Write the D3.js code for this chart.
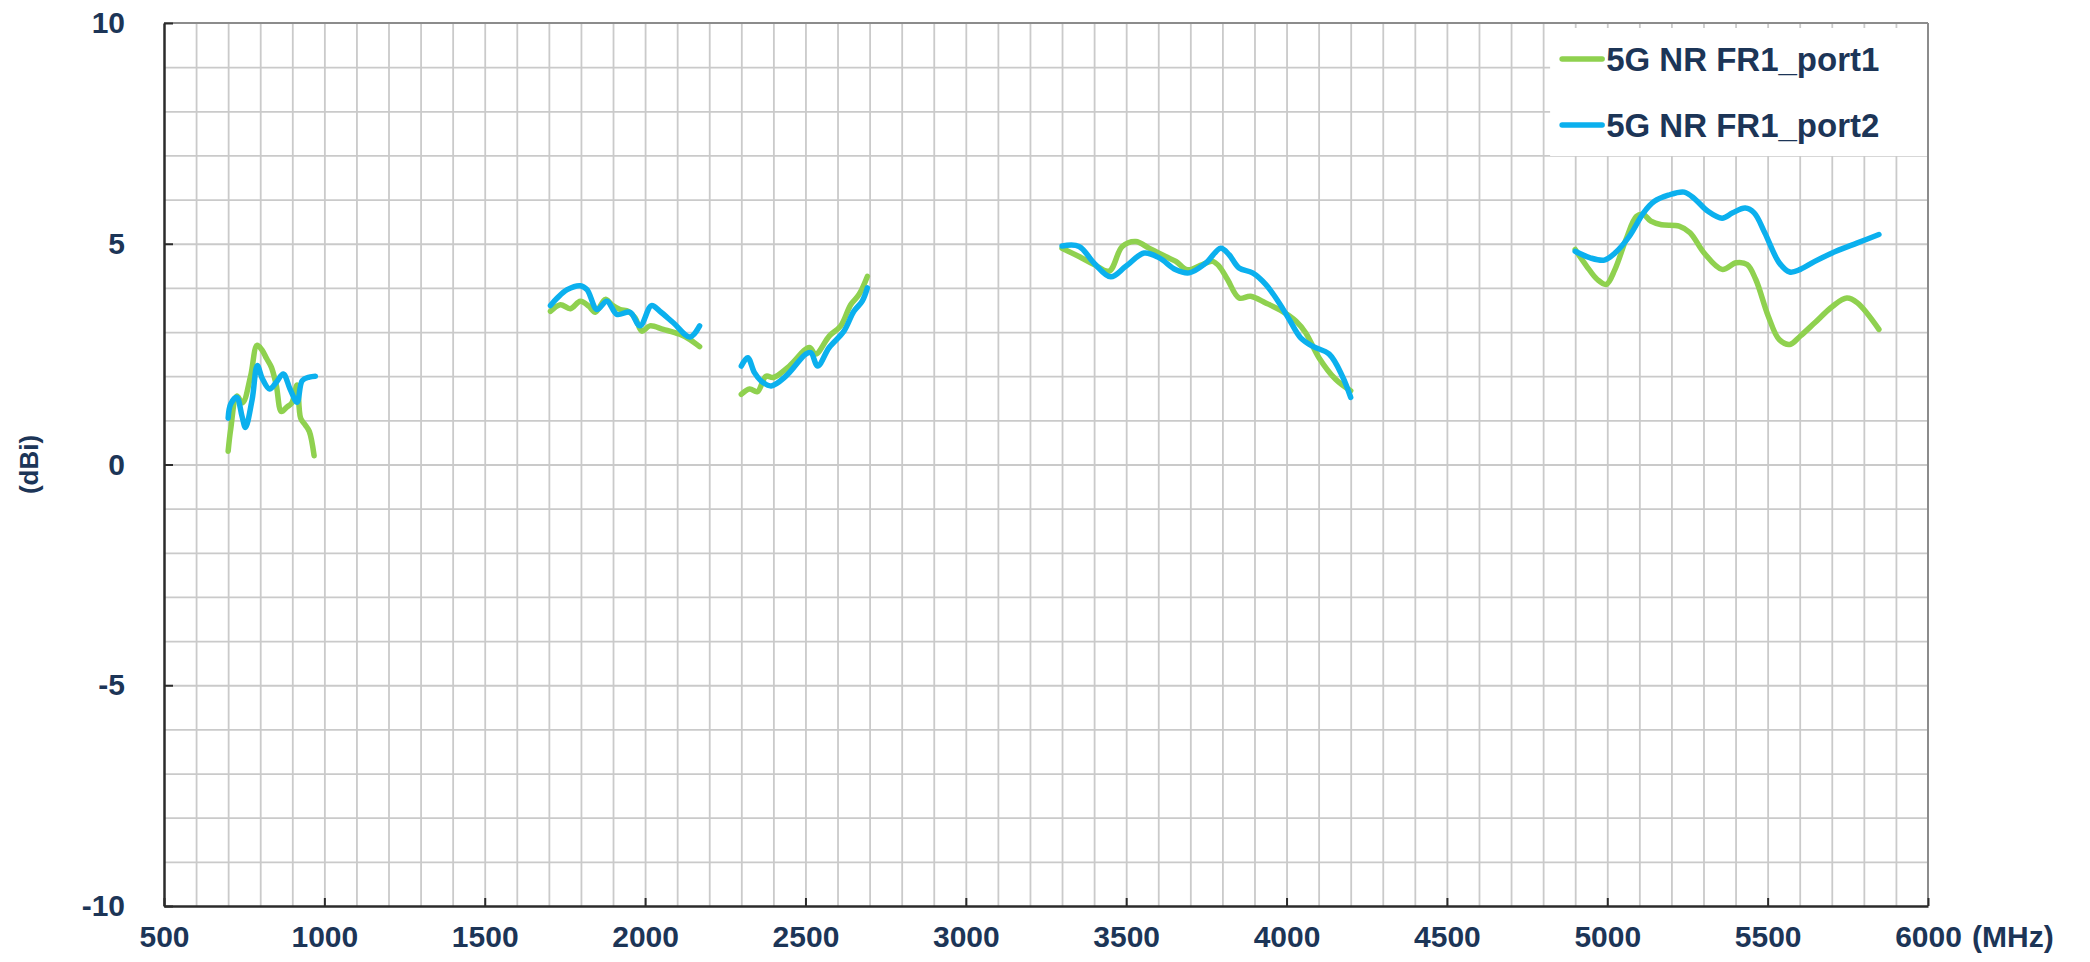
<!DOCTYPE html>
<html>
<head>
<meta charset="utf-8">
<title>5G NR FR1 gain</title>
<script src="https://d3js.org/d3.v7.min.js"></script>
<style>
  body { margin: 0; background: #fff; }
  text { font-family: "Liberation Sans", Arial, sans-serif; font-weight: bold; fill: #1c3557; }
</style>
</head>
<body>
<script>
var width = 2090, height = 962;

var seriesNames = ["5G NR FR1_port1", "5G NR FR1_port2"];
var seriesColors = ["#8fd14f", "#0bb0ee"];
var xTicks = [500, 1000, 1500, 2000, 2500, 3000, 3500, 4000, 4500, 5000, 5500, 6000];
var yTicks = [-10, -5, 0, 5, 10];

// null marks a gap between bands
var port1Freq = [700, 708, 727, 745, 770, 790, 805, 820, 835, 850, 866, 883, 899, 915, 926, 940, 953, 968, null,
  1705, 1736, 1767, 1798, 1824, 1845, 1876, 1896, 1922, 1948, 1969, 1990, 2015, 2057, 2108, 2140, 2170, null,
  2300, 2326, 2350, 2377, 2400, 2450, 2512, 2532, 2574, 2610, 2641, 2667, 2693, null,
  3300, 3353, 3400, 3447, 3488, 3530, 3571, 3623, 3655, 3691, 3738, 3769, 3790, 3816, 3852, 3888, 3935, 3987, 4029, 4060, 4101, 4153, 4200, null,
  4900, 4936, 4969, 4997, 5024, 5058, 5091, 5113, 5136, 5169, 5224, 5258, 5302, 5358, 5402, 5436, 5463, 5502, 5536, 5569, 5602, 5647, 5702, 5747, 5780, 5847];
var port1Gain = [0.3, 0.8, 1.55, 1.4, 2.0, 2.7, 2.6, 2.4, 2.2, 1.8, 1.2, 1.3, 1.4, 1.8, 1.05, 0.9, 0.75, 0.2, null,
  3.47, 3.62, 3.53, 3.70, 3.59, 3.45, 3.74, 3.62, 3.51, 3.47, 3.32, 3.02, 3.14, 3.06, 2.95, 2.83, 2.67, null,
  1.59, 1.71, 1.65, 2.0, 1.97, 2.23, 2.65, 2.5, 2.91, 3.14, 3.62, 3.85, 4.26, null,
  4.9, 4.71, 4.53, 4.38, 4.94, 5.05, 4.9, 4.71, 4.6, 4.41, 4.53, 4.6, 4.49, 4.19, 3.77, 3.81, 3.66, 3.47, 3.25, 2.98, 2.42, 1.93, 1.67, null,
  4.87, 4.49, 4.19, 4.08, 4.42, 5.09, 5.62, 5.66, 5.51, 5.43, 5.40, 5.25, 4.79, 4.42, 4.57, 4.53, 4.19, 3.36, 2.83, 2.72, 2.91, 3.21, 3.58, 3.77, 3.66, 3.06];

var port2Freq = [700, 708, 727, 743, 754, 775, 791, 807, 829, 850, 872, 893, 915, 931, 953, 972, null,
  1705, 1726, 1757, 1798, 1819, 1850, 1881, 1912, 1953, 1984, 2020, 2046, 2088, 2140, 2170, null,
  2300, 2320, 2341, 2362, 2393, 2439, 2501, 2517, 2538, 2574, 2620, 2651, 2677, 2693, null,
  3300, 3353, 3400, 3452, 3499, 3556, 3603, 3655, 3696, 3748, 3795, 3821, 3852, 3894, 3935, 3977, 4008, 4044, 4081, 4133, 4174, 4200, null,
  4900, 4947, 4991, 5024, 5069, 5113, 5147, 5190, 5240, 5275, 5313, 5358, 5391, 5430, 5458, 5491, 5536, 5569, 5602, 5647, 5713, 5780, 5847];
var port2Gain = [1.05, 1.37, 1.52, 1.1, 0.84, 1.48, 2.24, 1.94, 1.71, 1.86, 2.05, 1.71, 1.41, 1.9, 1.98, 2.0, null,
  3.60, 3.77, 3.96, 4.05, 3.96, 3.51, 3.70, 3.40, 3.45, 3.14, 3.60, 3.47, 3.21, 2.89, 3.14, null,
  2.23, 2.42, 2.08, 1.89, 1.78, 2.0, 2.5, 2.53, 2.23, 2.65, 3.02, 3.47, 3.70, 4.0, null,
  4.95, 4.94, 4.56, 4.25, 4.49, 4.79, 4.68, 4.41, 4.34, 4.56, 4.9, 4.75, 4.45, 4.34, 4.08, 3.66, 3.29, 2.87, 2.68, 2.5, 2.0, 1.52, null,
  4.83, 4.68, 4.63, 4.79, 5.17, 5.70, 5.96, 6.1, 6.17, 6.0, 5.74, 5.58, 5.70, 5.81, 5.70, 5.25, 4.57, 4.36, 4.42, 4.60, 4.83, 5.02, 5.21];

var margin = {top: 23, right: 162, bottom: 56, left: 164};
var innerW = width - margin.left - margin.right;
var innerH = height - margin.top - margin.bottom;

var svg = d3.select("body").append("svg").attr("width", width).attr("height", height);
var g = svg.append("g").attr("transform", "translate(" + margin.left + "," + margin.top + ")");

var x = d3.scaleLinear().domain([500, 6000]).range([0, innerW]);
var y = d3.scaleLinear().domain([-10, 10]).range([innerH, 0]);

// grid
g.append("g").attr("class", "gridx").attr("transform", "translate(0," + innerH + ")")
  .call(d3.axisBottom(x).tickValues(d3.range(600, 6000, 100)).tickSize(-innerH).tickFormat(""))
  .call(function(s){ s.select(".domain").remove(); s.selectAll("line").attr("stroke", "#cacaca").attr("stroke-width", 1.8); });
g.append("g").attr("class", "gridy")
  .call(d3.axisLeft(y).tickValues(d3.range(-9, 10, 1)).tickSize(-innerW).tickFormat(""))
  .call(function(s){ s.select(".domain").remove(); s.selectAll("line").attr("stroke", "#cacaca").attr("stroke-width", 1.8); });

// frame
g.append("line").attr("x1", 0).attr("x2", innerW).attr("y1", 0).attr("y2", 0).attr("stroke", "#8c8c8c").attr("stroke-width", 2);
g.append("line").attr("x1", innerW).attr("x2", innerW).attr("y1", 0).attr("y2", innerH).attr("stroke", "#8c8c8c").attr("stroke-width", 2);

// axes
var plain = function(d){ return String(d); };
var xAxis = g.append("g").attr("transform", "translate(0," + innerH + ")")
  .call(d3.axisBottom(x).tickValues(xTicks).tickFormat(plain).tickSizeInner(-8).tickSizeOuter(0).tickPadding(20));
var yAxis = g.append("g")
  .call(d3.axisLeft(y).tickValues(yTicks).tickFormat(plain).tickSizeInner(-9).tickSizeOuter(0).tickPadding(39));
[xAxis, yAxis].forEach(function(a){
  a.select(".domain").attr("stroke", "#2b2b2b").attr("stroke-width", 2.5);
  a.selectAll(".tick line").attr("stroke", "#2b2b2b").attr("stroke-width", 2);
  a.selectAll(".tick text").attr("font-size", 30).attr("fill", "#1c3557")
    .style("font-family", "'Liberation Sans', Arial, sans-serif").style("font-weight", "bold");
});

g.append("text").attr("x", x(6000) + 44).attr("y", innerH + 20).attr("dy", "0.71em")
  .attr("font-size", 30).text("(MHz)");

svg.append("text").attr("transform", "translate(38," + (margin.top + y(0)) + ") rotate(-90)")
  .attr("text-anchor", "middle").attr("font-size", 26).text("(dBi)");

// series
var series = [
  {name: seriesNames[0], color: seriesColors[0], pts: port1Freq.map(function(f, i){ return [f, port1Gain[i]]; })},
  {name: seriesNames[1], color: seriesColors[1], pts: port2Freq.map(function(f, i){ return [f, port2Gain[i]]; })}
];
var line = d3.line()
  .defined(function(d){ return d[0] != null && d[1] != null; })
  .x(function(d){ return x(d[0]); })
  .y(function(d){ return y(d[1]); })
  .curve(d3.curveCatmullRom.alpha(0.5));

g.selectAll("path.series").data(series).enter().append("path")
  .attr("class", "series")
  .attr("d", function(d){ return line(d.pts); })
  .attr("fill", "none")
  .attr("stroke", function(d){ return d.color; })
  .attr("stroke-width", 5.5)
  .attr("stroke-linejoin", "round")
  .attr("stroke-linecap", "round");

// legend
var lg = g.append("g").attr("transform", "translate(" + (x(4800) + 7) + ",5)");
lg.append("rect").attr("width", innerW - x(4800) - 8).attr("height", 128).attr("fill", "#fff");
var item = lg.selectAll("g.item").data(series).enter().append("g")
  .attr("transform", function(d, i){ return "translate(0," + (31 + i * 66) + ")"; });
item.append("line").attr("x1", 12).attr("x2", 52).attr("stroke", function(d){ return d.color; })
  .attr("stroke-width", 5.5).attr("stroke-linecap", "round");
item.append("text").attr("x", 56).attr("dy", "0.36em").attr("font-size", 33).text(function(d){ return d.name; });
</script>
</body>
</html>
